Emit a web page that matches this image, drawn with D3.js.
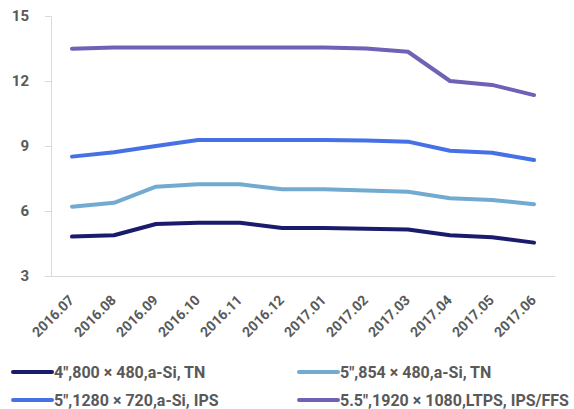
<!DOCTYPE html>
<html>
<head>
<meta charset="utf-8">
<script src="https://cdn.jsdelivr.net/npm/d3@7"></script>
<style>
  html, body { margin: 0; padding: 0; background: #fff; }
  svg { display: block; font-family: Roboto, "Open Sans", sans-serif; font-weight: 700; }
</style>
</head>
<body>
<svg id="chart" width="574" height="409"></svg>
<script>
// Monthly panel prices (USD) by display spec
const months = ["2016.07","2016.08","2016.09","2016.10","2016.11","2016.12","2017.01","2017.02","2017.03","2017.04","2017.05","2017.06"];
const seriesNames = ["4\",800 × 480,a-Si, TN", "5\",854 × 480,a-Si, TN", "5\",1280 × 720,a-Si, IPS", "5.5\",1920 × 1080,LTPS, IPS/FFS"];
const s4TN   = [4.82, 4.88, 5.40, 5.46, 5.46, 5.22, 5.22, 5.18, 5.15, 4.88, 4.79, 4.54];
const s5TN   = [6.20, 6.38, 7.12, 7.23, 7.23, 7.00, 7.00, 6.95, 6.89, 6.59, 6.51, 6.31];
const s5IPS  = [8.51, 8.71, 9.00, 9.28, 9.28, 9.28, 9.28, 9.25, 9.20, 8.78, 8.69, 8.35];
const s55LT  = [13.49, 13.55, 13.55, 13.55, 13.55, 13.55, 13.55, 13.50, 13.35, 12.00, 11.82, 11.35];
const yTicks = [3, 6, 9, 12, 15];
const colors = ["#1b1b6e", "#72aad2", "#4570e6", "#6f61b5"];

const allSeries = [s4TN, s5TN, s5IPS, s55LT];

const svg = d3.select("#chart");
const plot = { left: 51, right: 555, top: 16, bottom: 276 };
const textColor = "#595959";

const x = d3.scaleBand().domain(months).range([plot.left, plot.right]);
const y = d3.scaleLinear().domain([3, 15]).range([plot.bottom, plot.top]);

// y axis
const yAxis = svg.append("g")
  .attr("transform", `translate(${plot.left},0)`)
  .call(d3.axisLeft(y).tickValues(yTicks).tickSize(6).tickPadding(16));
yAxis.select(".domain").attr("stroke", "#d9d9d9");
yAxis.selectAll(".tick line").attr("stroke", "#d9d9d9");
yAxis.selectAll(".tick text")
  .attr("fill", textColor).attr("font-size", 15)
  .attr("font-weight", 700).attr("font-family", "Roboto, sans-serif");

// x axis with diagonal month labels
const xAxis = svg.append("g")
  .attr("transform", `translate(0,${plot.bottom})`)
  .call(d3.axisBottom(x).tickSize(0).tickPadding(0));
xAxis.select(".domain").attr("stroke", "#d9d9d9").attr("d", `M${plot.left},0.5H${plot.right}`);
xAxis.selectAll(".tick text")
  .attr("fill", textColor).attr("font-size", 14)
  .attr("font-weight", 700).attr("font-family", "Roboto, sans-serif")
  .attr("text-anchor", "end")
  .attr("dy", null).attr("y", 0)
  .attr("transform", "translate(3,25) rotate(-45)");

// price lines
const line = d3.line()
  .x((d, i) => x(months[i]) + x.bandwidth() / 2)
  .y(d => y(d));

allSeries.forEach((vals, k) => {
  svg.append("path")
    .datum(vals)
    .attr("fill", "none")
    .attr("stroke", colors[k])
    .attr("stroke-width", 4)
    .attr("stroke-linejoin", "round")
    .attr("stroke-linecap", "round")
    .attr("d", line);
});

// legend, two columns
const legendPos = [[13, 372], [299, 372], [13, 400], [299, 400]];
seriesNames.forEach((name, k) => {
  const [lx, ly] = legendPos[k];
  const g = svg.append("g").attr("transform", `translate(${lx},${ly})`);
  g.append("line").attr("x1", 0).attr("x2", 39).attr("y1", 0).attr("y2", 0)
    .attr("stroke", colors[k]).attr("stroke-width", 4).attr("stroke-linecap", "round");
  g.append("text").attr("x", 41).attr("y", 6)
    .attr("fill", textColor).attr("font-size", 16).attr("font-weight", 700)
    .text(name);
});
</script>
</body>
</html>
